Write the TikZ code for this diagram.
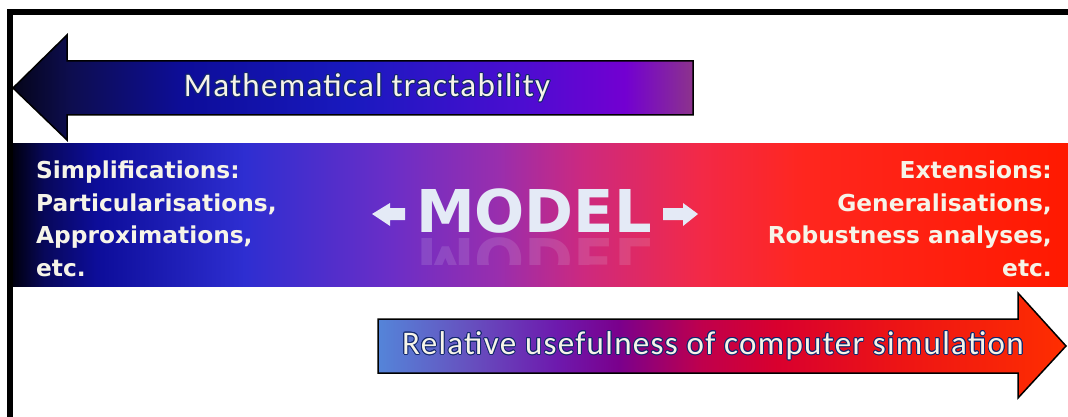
\documentclass[tikz,border=0pt]{standalone}
\usepackage{fontspec}
\setmainfont{Carlito}[LetterSpace=4.0]
\newfontfamily\boldsans{DejaVu Sans}
\usepackage[copies]{contour}
\contourlength{0.9pt}
\usetikzlibrary{positioning}
\definecolor{creamtext}{RGB}{246,244,232}
\definecolor{glowblue}{RGB}{20,40,110}
\definecolor{modelwhite}{RGB}{228,234,246}
\pgfdeclarehorizontalshading{tractshade}{100bp}{rgb(0bp)=(0.02,0.02,0.1); rgb(25bp)=(0.02,0.02,0.1);
  rgb(29bp)=(0.05,0.05,0.3); rgb(37.5bp)=(0.05,0.05,0.6); rgb(50bp)=(0.1,0.1,0.75);
  rgb(62.5bp)=(0.3,0.05,0.82); rgb(70bp)=(0.45,0,0.82); rgb(75bp)=(0.55,0.2,0.55); rgb(100bp)=(0.55,0.2,0.55)}
\pgfdeclarehorizontalshading{bandshade}{100bp}{rgb(0bp)=(0,0,0.05); rgb(25bp)=(0,0,0.05);
  rgb(26.5bp)=(0.03,0.03,0.35); rgb(29bp)=(0.05,0.05,0.6); rgb(36bp)=(0.18,0.18,0.82);
  rgb(43bp)=(0.42,0.18,0.78); rgb(48bp)=(0.6,0.18,0.68); rgb(52bp)=(0.8,0.16,0.5);
  rgb(57.5bp)=(0.95,0.16,0.28); rgb(62.5bp)=(1,0.15,0.12); rgb(75bp)=(1,0.1,0); rgb(100bp)=(1,0.1,0)}
\pgfdeclarehorizontalshading{usefulshade}{100bp}{rgb(0bp)=(0.33,0.52,0.85); rgb(25bp)=(0.33,0.52,0.85);
  rgb(31.5bp)=(0.4,0.32,0.75); rgb(38bp)=(0.43,0.1,0.68); rgb(42.5bp)=(0.48,0,0.55);
  rgb(48.5bp)=(0.75,0,0.3); rgb(54bp)=(0.85,0,0.18); rgb(63bp)=(0.93,0.08,0.08);
  rgb(75bp)=(1,0.18,0); rgb(100bp)=(1,0.18,0)}
\newcommand{\glow}[1]{\contour{glowblue}{#1}}

\begin{document}
\begin{tikzpicture}[x=1pt,y=-1pt,
    armtext/.style={text=creamtext,font=\fontsize{33}{36}\selectfont,inner sep=0pt},
    bandtext/.style={text=creamtext,font=\boldsans\bfseries\fontsize{23.3}{32.4}\selectfont,inner sep=0pt},
    modeltext/.style={text=modelwhite,font=\boldsans\bfseries\fontsize{59}{60}\selectfont,inner sep=0pt},
    smallarrow/.style={fill=modelwhite}]
                \useasboundingbox (0,0) rectangle (1068,417);
                \fill[shading=bandshade] (12,144) rectangle (1068,286);
                \draw[line width=1.5pt,shading=tractshade] (13,88) -- (67,35) -- (67,61) -- (693,61)
                    -- (693,115) -- (67,115) -- (67,140) -- cycle;
                \draw[line width=1.5pt,shading=usefulshade] (378,319) -- (1018,319) -- (1018,293)
                    -- (1066,346) -- (1018,398) -- (1018,373) -- (378,373) -- cycle;
                \node[armtext] (tract) at (367,88) {\glow{Mathematical tractability}};
                \node[armtext] (useful) at (713,346) {\glow{Relative usefulness of computer simulation}};
                \node[bandtext,anchor=north west,align=left] (simp) at (36,161)
                    {Simplifications:\\Particularisations,\\Approximations,\\etc.};
                \node[bandtext,anchor=north east,align=right] (ext) at (1052,161)
                    {Extensions:\\Generalisations,\\Robustness analyses,\\etc.};
                \node[modeltext,anchor=base] (model) at (534,232) {MODEL};
                \begin{scope}
                    \clip (400,236) rectangle (670,264);
                    \begin{scope}[shift={(534,238)},yscale=-1]
                        \node[modeltext,anchor=base,transform shape,text opacity=0.14] (modelrefl) at (0,0) {MODEL};
                    \end{scope}
                \end{scope}
                \fill[smallarrow] (405,208) -- (390,208) -- (390,203) -- (372,214) -- (390,226)
                    -- (390,220) -- (405,220) -- cycle;
                \fill[smallarrow] (663,208) -- (683,208) -- (683,203) -- (698,214) -- (683,226)
                    -- (683,220) -- (663,220) -- cycle;
                \draw[line width=6pt] (10,417) -- (10,12) -- (1068,12);
            \end{tikzpicture}
\end{document}
